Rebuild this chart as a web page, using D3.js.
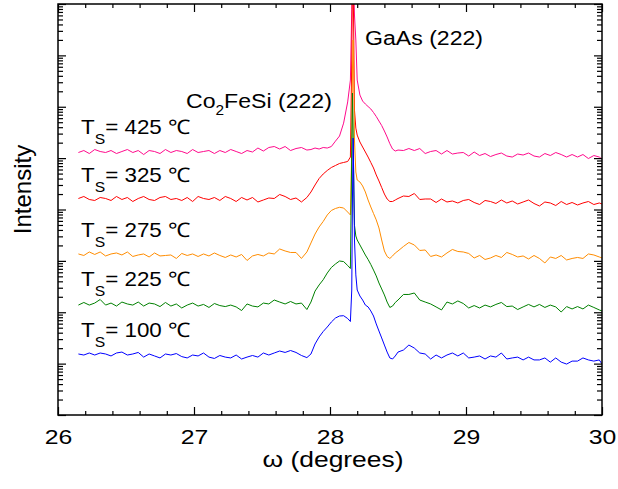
<!DOCTYPE html>
<html>
<head>
<meta charset="utf-8">
<script src="https://cdn.jsdelivr.net/npm/d3@7"></script>
<style>
  body { margin: 0; background: #fff; }
  text { font-family: Arial, "Liberation Sans", sans-serif; fill: #000; }
</style>
</head>
<body>
<div id="chart"></div>
<script>
// omega grid shared by all scans (degrees)
const omega = [
  26.15, 26.19, 26.23, 26.27, 26.31, 26.35, 26.39, 26.43, 26.47, 26.51, 26.55, 26.59, 26.63, 26.67, 26.71,
  26.75, 26.79, 26.83, 26.87, 26.91, 26.95, 26.99, 27.03, 27.07, 27.11, 27.15, 27.19, 27.23, 27.27, 27.31,
  27.35, 27.39, 27.43, 27.47, 27.51, 27.55, 27.59, 27.63, 27.67, 27.71, 27.75, 27.79, 27.83,
  27.86, 27.89, 27.92, 27.95, 27.98, 28.01, 28.04, 28.07, 28.10, 28.13, 28.15, 28.16, 28.165, 28.17, 28.175,
  28.18, 28.19, 28.20, 28.22, 28.24, 28.26, 28.28, 28.30, 28.32, 28.34, 28.36, 28.38, 28.40, 28.42, 28.44,
  28.46, 28.48, 28.50,
  28.54, 28.58, 28.62, 28.66, 28.70, 28.74, 28.78, 28.82, 28.86, 28.90, 28.94, 28.98, 29.02, 29.06, 29.10,
  29.14, 29.18, 29.22, 29.26, 29.30, 29.34, 29.38, 29.42, 29.46, 29.50, 29.54, 29.58, 29.62, 29.66, 29.70,
  29.74, 29.78, 29.82, 29.86, 29.90, 29.94, 29.98, 30.00
];

// intensities (arb. units, curves offset vertically)
const int100 = [
  15.4, 14.7, 16.1, 14.7, 16.1, 15.4, 14.1, 16.1, 16.8, 14.7, 15.4, 16.5, 13.4, 15.4, 14.1, 12.9, 15.4, 14.7,
  15.7, 13.7, 12.9, 14.7, 14.1, 16.1, 13.4, 12.6, 14.4, 13.4, 12.9, 14.7, 12.3, 13.4, 14.4, 13.4, 16.1, 14.7,
  16.1, 17.6, 16.5, 18.0, 16.5, 14.4, 13.1,
  15.4, 24.1, 33.0, 42.2, 51.6, 64.6, 77.2, 84.5, 85.7, 75.5, 66.0, 271, 15300, 246000, 37500, 2550, 533, 271,
  207, 173, 138, 127, 106, 84.5, 59.2, 43.1, 31.6, 23.0, 16.8, 12.9, 12.3, 14.1, 16.8,
  18.4, 23.0, 20.1, 16.1, 15.4, 12.3, 14.7, 12.9, 14.7, 16.1, 14.1, 16.1, 12.9, 13.4, 14.1, 12.3, 14.1, 13.4,
  16.1, 12.3, 12.9, 13.4, 11.8, 13.4, 11.8, 11.8, 12.9, 10.7, 12.9, 10.7, 9.8, 11.2, 11.2, 12.9, 11.8, 11.2,
  11.8, 9.8
];
const int225 = [
  138, 155, 138, 151, 177, 138, 151, 132, 158, 145, 138, 158, 132, 151, 145, 129, 155, 132, 145, 121, 138, 151,
  132, 142, 124, 148, 135, 129, 138, 127, 108, 145, 132, 127, 151, 145, 173, 158, 145, 162, 145, 151, 113,
  158, 258, 340, 429, 581, 744, 870, 994, 969, 813, 711, 143700, 1850000, 352000, 24000, 4930, 3050, 2550,
  2040, 1630, 1300, 1065, 850, 662, 509, 371, 284, 217, 158, 124, 132, 155, 173,
  222, 222, 237, 173, 158, 145, 127, 111, 158, 145, 166, 148, 121, 135, 121, 138, 127, 142, 155, 129, 132, 113,
  127, 142, 127, 142, 124, 138, 127, 101, 129, 116, 129, 116, 138, 124, 111, 106
];
const int275 = [
  1363, 1274, 1490, 1333, 1490, 1246, 1363, 1425, 1303, 1490, 1218, 1303, 1363, 1191, 1425, 1246, 1274, 1303,
  1114, 1394, 1274, 1363, 1218, 1363, 1246, 1425, 1274, 1165, 1303, 1191, 1333, 1018, 1246, 1333, 1246, 1425,
  1363, 1705, 1558, 1457, 1457, 1114, 1490,
  2230, 3330, 4570, 5850, 7830, 9580, 10460, 11040, 10700, 8910, 7830, 143700, 5190000, 19900000, 3310000,
  225000, 53700, 37500, 34300, 28700, 21900, 15300, 11200, 8360, 6280, 4370, 2550, 1558, 1218, 1114, 1246,
  1425, 1558,
  1907, 2280, 2040, 1594, 1630, 1218, 1303, 1191, 1425, 1668, 1524, 1490, 1394, 1139, 1274, 1065, 1139, 1274,
  1165, 1457, 1333, 1191, 1246, 1089, 1274, 1114, 910, 1191, 1114, 1274, 1041, 1114, 1165, 1114, 1363, 1303,
  1191, 1139
];
const int325 = [
  16380, 17910, 15660, 14970, 17130, 16380, 14970, 17910, 15660, 17130, 14310, 16380, 17910, 15660, 14970,
  17130, 17910, 15660, 16380, 14970, 17130, 14310, 17910, 16380, 15660, 17130, 14970, 17910, 16380, 14310,
  17130, 15310, 17130, 14000, 15310, 16750, 16380, 19590, 17910, 15660, 16750, 14000, 17130,
  21900, 30000, 40100, 49100, 57500, 65700, 71900, 78700, 82300, 86000, 105000, 8130000, 293000000, 293000000,
  19900000, 860000, 384000, 281000, 206000, 164500, 131500, 105000, 82300, 64300, 47000, 35900, 26800, 20000,
  16000, 14310, 14310, 15310, 16380,
  18310, 17910, 20490, 15660, 16010, 16010, 13690, 16010, 14000, 14640, 13390, 14970, 15660, 13690, 12510,
  14970, 14310, 13090, 15310, 13390, 14640, 12800, 14000, 15310, 13090, 11700, 14000, 13390, 11960, 14310,
  12510, 13690, 12240, 13390, 14310, 12510, 13390, 12800
];
const int425 = [
  128600, 140600, 122900, 147000, 134500, 128600, 140600, 122900, 134500, 147000, 128600, 140600, 117500,
  140600, 134500, 122900, 147000, 128600, 140600, 134500, 122900, 147000, 128600, 134500, 140600, 122900,
  140600, 128600, 147000, 134500, 122900, 140600, 131500, 157300, 137500, 160900, 168300, 150400, 168300,
  140600, 153800, 160900, 143700,
  147000, 157300, 150400, 160900, 157300, 168300, 214000, 269000, 480000, 1240000, 3310000, 77000000,
  400000000, 400000000, 190000000, 61000000, 19900000, 3310000, 1690000, 1290000, 1130000, 1010000, 905000,
  772000, 646000, 527000, 431000, 337000, 258000, 191000, 150400, 137500, 143700,
  140600, 153800, 140600, 153800, 122900, 134500, 140600, 120200, 140600, 120200, 125700, 128600, 109900,
  131500, 112400, 122900, 107400, 117500, 125700, 109900, 105000, 120200, 114900, 125700, 109900, 105000,
  122900, 112400, 128600, 117500, 105000, 117500, 105000, 117500, 98200, 112400, 105000, 96000
];

const temps = ['425', '325', '275', '225', '100'];
const xTicks = [26, 27, 28, 29, 30];

const series = [
  { temp: temps[0], values: int425, color: '#ff0a8c' },
  { temp: temps[1], values: int325, color: '#ff0000' },
  { temp: temps[2], values: int275, color: '#ff8c00' },
  { temp: temps[3], values: int225, color: '#008000' },
  { temp: temps[4], values: int100, color: '#0000ff' }
];

const width = 618;
const height = 489;
const margin = { top: 4, right: 16, bottom: 74, left: 58 };

const svg = d3.select('#chart')
  .append('svg')
  .attr('width', width)
  .attr('height', height);

const x = d3.scaleLinear()
  .domain([26, 30])
  .range([margin.left, width - margin.right]);

const y = d3.scaleLog()
  .domain([1, 1e8])
  .range([height - margin.bottom, margin.top]);

const xMinor = d3.range(26, 30.001, 0.2).filter(v => Math.abs(v - Math.round(v)) > 1e-6);
const yMajor = d3.range(0, 9).map(k => Math.pow(10, k));
const yMinor = [];
for (let k = 0; k < 8; k++) for (let m = 2; m <= 9; m++) yMinor.push(m * Math.pow(10, k));

svg.append('clipPath').attr('id', 'plot-clip')
  .append('rect')
  .attr('x', x(26)).attr('y', y(1e8))
  .attr('width', x(30) - x(26)).attr('height', y(1) - y(1e8));

// scans
const line = d3.line()
  .x((d, i) => x(omega[i]))
  .y(d => y(d));

svg.append('g')
  .attr('clip-path', 'url(#plot-clip)')
  .selectAll('path')
  .data(series)
  .join('path')
    .attr('fill', 'none')
    .attr('stroke', d => d.color)
    .attr('stroke-width', 1)
    .attr('stroke-linejoin', 'round')
    .attr('d', d => line(d.values));

// axes, ticks pointing inward
function clean(g) {
  g.select('.domain').remove();
  g.selectAll('.tick line').attr('stroke', '#000').attr('stroke-width', 1.2);
}

const bottom = height - margin.bottom;
svg.append('g')
  .attr('transform', `translate(0,${bottom})`)
  .call(d3.axisBottom(x).tickValues(xTicks).tickFormat(d3.format('d'))
    .tickSizeInner(-8).tickSizeOuter(0).tickPadding(14))
  .call(clean)
  .call(g => g.selectAll('text')
    .attr('font-size', '21px')
    .attr('fill', '#000')
    .attr('transform', 'scale(1.18,1)'));
svg.append('g')
  .attr('transform', `translate(0,${bottom})`)
  .call(d3.axisBottom(x).tickValues(xMinor).tickSize(-4).tickFormat(''))
  .call(clean);
svg.append('g')
  .attr('transform', `translate(0,${margin.top})`)
  .call(d3.axisTop(x).tickValues(xTicks).tickSize(-8).tickFormat(''))
  .call(clean);
svg.append('g')
  .attr('transform', `translate(0,${margin.top})`)
  .call(d3.axisTop(x).tickValues(xMinor).tickSize(-4).tickFormat(''))
  .call(clean);

[[d3.axisLeft, margin.left], [d3.axisRight, width - margin.right]].forEach(([axis, pos]) => {
  svg.append('g')
    .attr('transform', `translate(${pos},0)`)
    .call(axis(y).tickValues(yMajor).tickSize(-8).tickFormat(''))
    .call(clean);
  svg.append('g')
    .attr('transform', `translate(${pos},0)`)
    .call(axis(y).tickValues(yMinor).tickSize(-5).tickFormat(''))
    .call(clean);
});

svg.append('rect')
  .attr('x', x(26)).attr('y', y(1e8))
  .attr('width', x(30) - x(26)).attr('height', y(1) - y(1e8))
  .attr('fill', 'none')
  .attr('stroke', '#000')
  .attr('stroke-width', 1.5);

// axis titles
svg.append('text')
  .attr('transform', `translate(${(x(26) + x(30)) / 2 + 3},467) scale(1.2,1)`)
  .attr('text-anchor', 'middle')
  .attr('font-size', '22px')
  .text('ω (degrees)');

svg.append('text')
  .attr('transform', `translate(31,${(y(1) + y(1e8)) / 2 - 20}) rotate(-90)`)
  .attr('text-anchor', 'middle')
  .attr('font-size', '24px')
  .text('Intensity');

// temperature labels above each scan
series.forEach(s => {
  const base = y(d3.mean(s.values.slice(0, 12)));
  const t = svg.append('text')
    .attr('transform', `translate(81,${base - 17}) scale(1.12,1)`)
    .attr('font-size', '20px');
  t.append('tspan').text('T');
  t.append('tspan').attr('font-size', '14px').attr('dy', 10).text('S');
  t.append('tspan').attr('dy', -10).text(`= ${s.temp} \u2103`);
});

// peak annotations
const co = svg.append('text')
  .attr('transform', 'translate(186,108) scale(1.1,1)')
  .attr('font-size', '21px');
co.append('tspan').text('Co');
co.append('tspan').attr('font-size', '14px').attr('dy', 7).text('2');
co.append('tspan').attr('dy', -7).text('FeSi (222)');

svg.append('text')
  .attr('transform', 'translate(365,45) scale(1.1,1)')
  .attr('font-size', '21px')
  .text('GaAs (222)');
</script>
</body>
</html>
